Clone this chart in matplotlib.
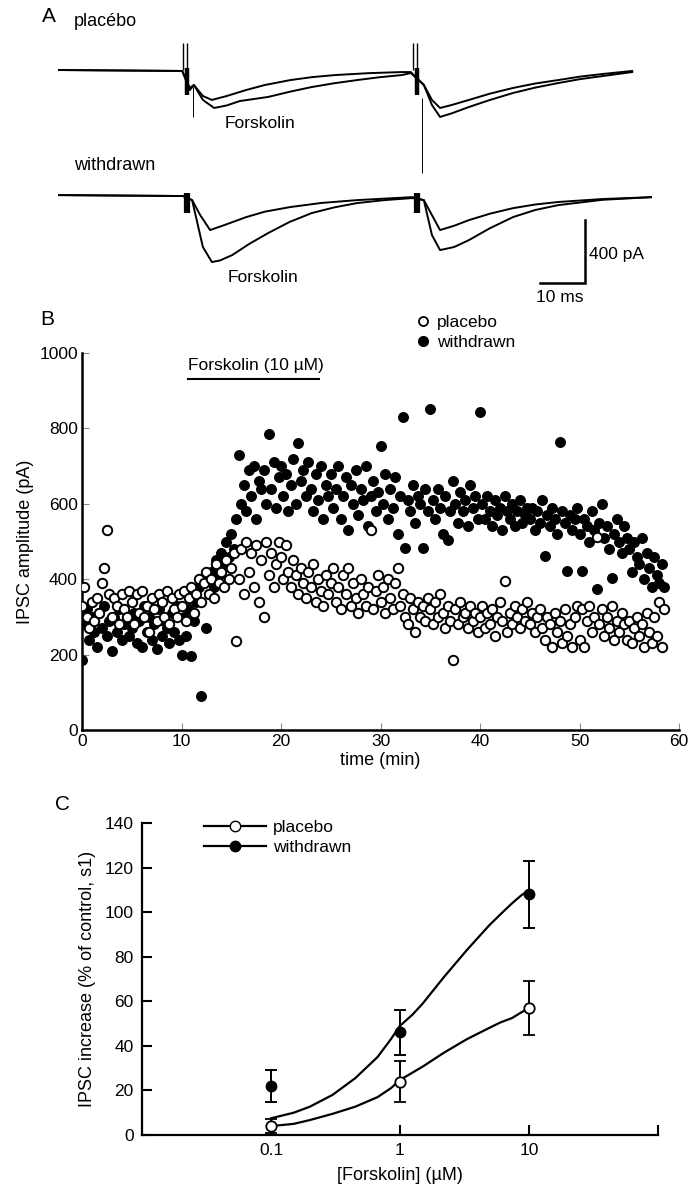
"""Forskolin effect on IPSCs: sample traces (A), time course (B), dose-response (C)."""

import matplotlib.pyplot as plt
import numpy as np
from matplotlib.lines import Line2D

plt.rcParams["font.family"] = ["Liberation Sans", "DejaVu Sans"]

# ---------------- Panel A: sample traces (ms, pA) ----------------
placebo_ctrl_t = [0, 27.6, 29.3, 30.2, 32.2, 34.2, 37.5, 41.8, 46.0, 51.6, 56.5, 61.6, 69.0,
                  76.4, 78.4, 81.3, 83.1, 84.9, 87.5, 91.3, 96.0, 101.1, 106.0, 111.1, 116.0,
                  121.1, 127.6]
placebo_ctrl_pa = [0, -6, -114, -95, -165, -190, -165, -127, -95, -64, -45, -32, -20,
                   -13, -13, -95, -190, -241, -222, -190, -150, -114, -86, -64, -42,
                   -25, -6]
placebo_fsk_t = [0, 27.6, 29.3, 30.2, 32.2, 34.7, 37.5, 40.4, 46.7, 51.5, 56.4, 61.4, 66.4,
                 71.4, 76.4, 78.4, 81.3, 83.1, 84.9, 87.5, 91.3, 96.0, 101.1, 106.0, 111.1,
                 116.0, 121.1, 127.6]
placebo_fsk_pa = [0, -6, -127, -95, -190, -241, -225, -197, -171, -138, -108, -84, -64,
                  -46, -32, -19, -95, -222, -298, -275, -235, -190, -146, -112, -83,
                  -58, -38, -13]

withdrawn_ctrl_t = [0, 27.8, 29.8, 31.6, 33.8, 37.0, 41.8, 46.0, 51.6, 58.5, 66.4, 78.7,
                    81.3, 83.1, 84.9, 88.0, 91.3, 96.0, 101.1, 106.0, 111.1, 121.0, 132]
withdrawn_ctrl_pa = [0, -6, -32, -127, -222, -190, -140, -105, -76, -50, -32, -13,
                     -32, -127, -222, -195, -159, -118, -83, -60, -44, -25, -13]
withdrawn_fsk_t = [0, 27.8, 29.8, 32.2, 34.2, 36.0, 38.7, 42.5, 46.7, 51.5, 56.4, 61.4,
                   66.4, 72.5, 78.7, 81.3, 83.1, 84.9, 88.0, 91.3, 96.0, 101.1, 106.0,
                   111.1, 121.0, 132]
withdrawn_fsk_pa = [0, -6, -32, -330, -425, -415, -381, -310, -241, -170, -114, -78,
                    -51, -32, -19, -32, -254, -349, -330, -286, -210, -140, -95,
                    -64, -30, -13]

stim_times_ms = [28.4, 79.6]
withdrawn_offset_pa = -794
scale_bar_pa = 400
scale_bar_ms = 10

# ---------------- Panel B: time course (pA), one point every 15 s ----------------
sample_interval_min = 0.25
placebo_amp = [
    330, 380, 300, 270, 340, 290, 350, 310, 390, 430, 530, 360, 300, 350, 330, 280, 360, 320, 300, 370,
    340, 280, 360, 310, 370, 300, 330, 260, 350, 320, 290, 360, 340, 300, 370, 280, 350, 320, 300, 360,
    330, 370, 290, 350, 380, 310, 360, 400, 340, 390, 420, 360, 400, 350, 440, 390, 420, 380, 450, 400,
    430, 470, 235, 400, 480, 360, 500, 420, 470, 380, 490, 340, 450, 300, 500, 410, 470, 380, 440, 500,
    460, 400, 490, 420, 380, 450, 410, 360, 430, 390, 350, 420, 380, 440, 340, 400, 370, 330, 410, 360,
    390, 430, 340, 380, 320, 410, 360, 430, 330, 390, 350, 310, 400, 360, 330, 380, 530, 320, 370, 410,
    340, 380, 310, 400, 350, 320, 390, 430, 330, 360, 300, 280, 350, 320, 260, 340, 300, 330, 290, 350,
    320, 280, 340, 300, 360, 310, 270, 330, 290, 185, 320, 280, 340, 300, 310, 270, 330, 290, 310, 260,
    300, 330, 270, 310, 280, 320, 250, 300, 340, 290, 395, 260, 310, 280, 330, 300, 270, 320, 290, 340,
    280, 310, 260, 300, 320, 270, 240, 300, 280, 220, 310, 260, 290, 230, 320, 250, 280, 220, 300, 330,
    240, 320, 220, 290, 330, 260, 300, 512, 280, 320, 250, 300, 270, 330, 240, 290, 260, 310, 280, 240,
    290, 230, 270, 300, 250, 280, 220, 310, 260, 230, 300, 250, 340, 220, 320,
]
withdrawn_amp = [
    185, 280, 320, 240, 300, 260, 220, 310, 270, 330, 250, 290, 210, 300, 260, 320, 240, 280, 300, 250,
    270, 310, 230, 290, 220, 330, 260, 300, 240, 280, 215, 320, 250, 290, 270, 230, 310, 260, 330, 240,
    200, 300, 250, 320, 195, 290, 340, 380, 90, 400, 270, 360, 420, 380, 450, 410, 470, 440, 500, 460,
    520, 480, 560, 730, 600, 650, 580, 690, 620, 700, 560, 660, 640, 690, 600, 785, 640, 710, 590, 670,
    700, 620, 680, 580, 650, 720, 600, 760, 660, 690, 620, 710, 640, 580, 680, 610, 700, 560, 650, 620,
    680, 590, 640, 700, 560, 620, 670, 530, 650, 600, 690, 570, 640, 610, 700, 540, 620, 660, 580, 630,
    752, 600, 680, 560, 640, 590, 670, 520, 620, 830, 482, 610, 580, 650, 550, 620, 600, 482, 640, 580,
    851, 610, 560, 640, 590, 520, 620, 504, 580, 660, 600, 550, 630, 580, 610, 540, 650, 590, 620, 560,
    843, 600, 560, 620, 580, 540, 610, 570, 590, 530, 620, 580, 560, 600, 540, 580, 610, 550, 570, 590,
    560, 590, 530, 580, 550, 610, 462, 570, 540, 590, 560, 520, 764, 580, 550, 422, 570, 530, 560, 590,
    520, 422, 560, 540, 500, 580, 530, 373, 550, 600, 510, 540, 480, 404, 520, 560, 500, 470, 540, 510,
    480, 420, 500, 460, 440, 510, 400, 470, 430, 380, 460, 410, 390, 440, 380,
]
forskolin_start_min = 10.7
forskolin_end_min = 23.8

# ---------------- Panel C: dose-response ----------------
conc_um = [0.1, 1, 10]
placebo_mean = [4, 24, 57]
placebo_err = [3, 9, 12]
withdrawn_mean = [22, 46, 108]
withdrawn_err = [7, 10, 15]
fit_conc = [0.1, 0.15, 0.2, 0.3, 0.45, 0.67, 0.85, 1.0, 1.25, 1.5, 2.2, 3.3, 4.9,
            6.0, 7.4, 8.7, 10]
placebo_fit = [4, 5, 6.7, 9.5, 12.7, 17, 21, 24.7, 28, 30.7, 37, 43, 48,
               50.5, 52.5, 55, 57]
withdrawn_fit = [7.5, 10, 12.7, 18, 25.5, 35, 43, 49, 54, 59, 71, 83, 94,
                 99, 104, 107.5, 110]

W, H = 693, 1199
fig = plt.figure(figsize=(W / 100, H / 100), dpi=100)


def fx(px):
    return px / W


def fy(py):
    return 1 - py / H


# ---- A ----
axA = fig.add_axes([fx(58), fy(300), 594 / W, 270 / H])
axA.set_xlim(0, 132)
axA.set_ylim(-1460, 254)
axA.axis("off")

trace_kw = dict(color="black", lw=1.4, solid_joinstyle="round")
axA.plot(placebo_ctrl_t, placebo_ctrl_pa, **trace_kw)
axA.plot(placebo_fsk_t, placebo_fsk_pa, **trace_kw)
axA.plot(withdrawn_ctrl_t, np.array(withdrawn_ctrl_pa) + withdrawn_offset_pa, **trace_kw)
axA.plot(withdrawn_fsk_t, np.array(withdrawn_fsk_pa) + withdrawn_offset_pa, **trace_kw)

for t in stim_times_ms:
    axA.vlines([t - 0.7, t + 0.2], 0, 170, color="black", lw=1.0)
    axA.vlines(t + 0.2, -160, 15, color="black", lw=3.2)
    axA.vlines(t + 0.2, withdrawn_offset_pa - 115, withdrawn_offset_pa + 15,
               color="black", lw=4.5)
axA.vlines(stim_times_ms[0] + 1.6, -298, -108, color="black", lw=0.7)
axA.vlines(stim_times_ms[1] + 1.3, -654, -178, color="black", lw=0.7)

bar_x, bar_top = 117.0, -952
axA.plot([bar_x, bar_x, bar_x - scale_bar_ms],
         [bar_top, bar_top - scale_bar_pa, bar_top - scale_bar_pa],
         color="black", lw=1.8, solid_joinstyle="miter")

fig.text(fx(42), fy(17), "A", fontsize=15, va="center")
fig.text(fx(74), fy(22), "placébo", fontsize=13, va="center")
fig.text(fx(225), fy(123), "Forskolin", fontsize=12.5, va="center")
fig.text(fx(74), fy(166), "withdrawn", fontsize=13, va="center")
fig.text(fx(228), fy(277), "Forskolin", fontsize=12.5, va="center")
fig.text(fx(589), fy(255), "400 pA", fontsize=12.5, va="center")
fig.text(fx(536), fy(298), "10 ms", fontsize=12.5, va="center")

# ---- B ----
axB = fig.add_axes([fx(82), fy(730), 597 / W, 377 / H])
times = np.arange(len(placebo_amp)) * sample_interval_min
axB.scatter(times, withdrawn_amp, s=50, c="black", edgecolors="black",
            linewidths=0.8, zorder=2)
axB.scatter(times, placebo_amp, s=46, facecolors="white", edgecolors="black",
            linewidths=1.4, zorder=3)
axB.set_xlim(0, 60)
axB.set_ylim(0, 1000)
axB.set_xticks(range(0, 61, 10))
axB.set_yticks(range(0, 1001, 200))
for side in ("top", "right"):
    axB.spines[side].set_visible(False)
for side in ("left", "bottom"):
    axB.spines[side].set_linewidth(1.8)
axB.tick_params(direction="in", length=5, width=0.8, color="0.55",
                labelsize=12.5, pad=3)
axB.set_xlabel("time (min)", fontsize=13, labelpad=2)
axB.set_ylabel("IPSC amplitude (pA)", fontsize=13, labelpad=4)

axB.plot([forskolin_start_min, forskolin_end_min], [931, 931], color="black",
         lw=1.5, clip_on=False)
axB.text(forskolin_start_min, 968, "Forskolin (10 µM)", fontsize=12.5, va="center")

b_handles = [
    Line2D([], [], ls="none", marker="o", ms=6.5, mfc="white", mec="black", mew=1.3),
    Line2D([], [], ls="none", marker="o", ms=7, mfc="black", mec="black"),
]
axB.legend(b_handles, ["placebo", "withdrawn"], loc="upper left",
           bbox_to_anchor=(0.56, 1.10), frameon=False, fontsize=12.5,
           handlelength=0.8, handletextpad=0.4, borderpad=0, borderaxespad=0,
           labelspacing=0.25)
fig.text(fx(40), fy(320), "B", fontsize=15, va="center")

# ---- C ----
axC = fig.add_axes([fx(142), fy(1135), 516 / W, 312 / H])
axC.set_xscale("log")
axC.plot(fit_conc, withdrawn_fit, color="black", lw=1.6, zorder=2)
axC.plot(fit_conc, placebo_fit, color="black", lw=1.6, zorder=2)
axC.errorbar(conc_um, withdrawn_mean, yerr=withdrawn_err, fmt="o", ms=7.5,
             mfc="black", mec="black", ecolor="black", elinewidth=1.4,
             capsize=4.5, capthick=1.4, zorder=3)
axC.errorbar(conc_um, placebo_mean, yerr=placebo_err, fmt="o", ms=7.5,
             mfc="white", mec="black", mew=1.3, ecolor="black", elinewidth=1.4,
             capsize=4.5, capthick=1.4, zorder=3)
axC.set_xlim(0.01, 100)
axC.set_ylim(0, 140)
axC.set_xticks([0.1, 1, 10, 100])
axC.set_xticklabels(["0.1", "1", "10", ""])
axC.minorticks_off()
axC.set_yticks(range(0, 141, 20))
for side in ("top", "right"):
    axC.spines[side].set_visible(False)
for side in ("left", "bottom"):
    axC.spines[side].set_linewidth(1.6)
axC.tick_params(direction="in", length=7, width=1.5, labelsize=12.5, pad=6)
axC.set_xlabel("[Forskolin] (µM)", fontsize=13, labelpad=6)
axC.set_ylabel("IPSC increase (% of control, s1)", fontsize=13, labelpad=6)

c_handles = [
    Line2D([], [], color="black", lw=1.6, marker="o", ms=7.5, mfc="white", mec="black"),
    Line2D([], [], color="black", lw=1.6, marker="o", ms=7.5, mfc="black", mec="black"),
]
axC.legend(c_handles, ["placebo", "withdrawn"], loc="upper left",
           bbox_to_anchor=(0.12, 1.01), frameon=False, fontsize=12.5,
           handlelength=3.6, handletextpad=0.4, borderpad=0, borderaxespad=0,
           labelspacing=0.3)
fig.text(fx(55), fy(805), "C", fontsize=15, va="center")

fig.savefig("out.png", dpi=100)
